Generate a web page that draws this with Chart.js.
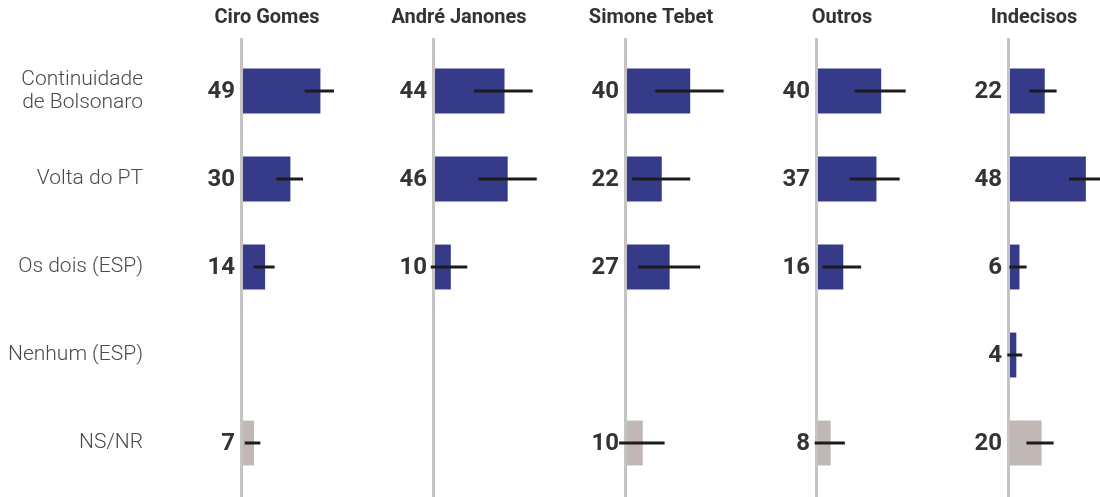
<!DOCTYPE html>
<html lang="pt">
<head>
<meta charset="UTF-8">
<title>Continuidade ou volta do PT</title>
<script src="https://cdn.jsdelivr.net/npm/chart.js@4.4.1/dist/chart.umd.min.js"></script>
<style>
  body { margin: 0; background: #fff; }
  #wrap { position: relative; width: 1100px; height: 497px; }
  #wrap canvas { position: absolute; top: 0; }
</style>
</head>
<body>
<div id="wrap"></div>

<script>
// categorias (eixo y) e paineis
var categorias = [['Continuidade', 'de Bolsonaro'], 'Volta do PT', 'Os dois (ESP)', 'Nenhum (ESP)', 'NS/NR'];
var paineis = ['Ciro Gomes', 'André Janones', 'Simone Tebet', 'Outros', 'Indecisos'];

// valores (%)
var ciro      = [49, 30, 14, null, 7];
var janones   = [44, 46, 10, null, null];
var tebet     = [40, 22, 27, null, 10];
var outros    = [40, 37, 16, null, 8];
var indecisos = [22, 48, 6, 4, 20];

// margem de erro: limite inferior e superior
var ciroErro      = [[39, 57.6], [21.1, 38], [6.8, 20], null, [1.1, 11]];
var janonesErro   = [[24.7, 61.8], [27.4, 64.4], [-2.7, 20.4], null, null];
var tebetErro     = [[17.9, 61.2], [3.2, 40], [7, 46.3], null, [-5, 23.8]];
var outrosErro    = [[23.2, 55.5], [20, 51.7], [2.7, 27.3], null, [-2.1, 17]];
var indecisosErro = [[12.2, 29.5], [37.3, 62], [-0.4, 10.5], [-1.7, 7.7], [10.4, 27.6]];

var valores = [ciro, janones, tebet, outros, indecisos];
var erros = [ciroErro, janonesErro, tebetErro, outrosErro, indecisosErro];

// layout
var zeroX = [243, 435, 627, 818, 1010];
var pxPorPonto = 1.58;
var azul = '#353a89';
var cinza = '#c1b8b6';

var extras = {
    id: 'extras',
    afterDatasetsDraw: function(chart, args, opts) {
        var ctx = chart.ctx;
        var xs = chart.scales.x, ys = chart.scales.y;
        var x0 = xs.getPixelForValue(0);
        ctx.save();
        // linha do zero
        ctx.strokeStyle = '#c4c4c4';
        ctx.lineWidth = 3;
        ctx.beginPath();
        ctx.moveTo(x0 - 1.5, 38);
        ctx.lineTo(x0 - 1.5, chart.height);
        ctx.stroke();
        // titulo
        ctx.fillStyle = '#333';
        ctx.font = 'bold 20px Roboto';
        ctx.textAlign = 'center';
        ctx.textBaseline = 'middle';
        ctx.fillText(opts.titulo, x0 + 24, 18);
        // margens de erro
        ctx.strokeStyle = '#1c1c1c';
        ctx.lineWidth = 3;
        (opts.erro || []).forEach(function(e, i) {
            if (!e) return;
            var y = ys.getPixelForValue(i);
            ctx.beginPath();
            ctx.moveTo(xs.getPixelForValue(e[0]), y);
            ctx.lineTo(xs.getPixelForValue(e[1]), y);
            ctx.stroke();
        });
        // rotulos
        ctx.fillStyle = '#333';
        ctx.font = 'bold 24px Roboto';
        ctx.textAlign = 'right';
        chart.data.datasets[0].data.forEach(function(v, i) {
            if (v === null) return;
            ctx.fillText(String(v), x0 - 8, ys.getPixelForValue(i) + 1);
        });
        ctx.restore();
    }
};

paineis.forEach(function(nome, p) {
    var primeiro = p === 0;
    var left = primeiro ? 0 : zeroX[p] - 60;
    var right = p < paineis.length - 1 ? zeroX[p + 1] - 60 : 1100;
    var largura = right - left;
    var areaL = primeiro ? zeroX[0] : 60;

    var c = document.createElement('canvas');
    c.width = largura;
    c.height = 497;
    c.style.left = left + 'px';
    document.getElementById('wrap').appendChild(c);

    var eixoY = primeiro ? {
        grid: { display: false, drawTicks: false },
        border: { display: false },
        ticks: {
            color: '#4a4a4a',
            padding: zeroX[0] - 143,
            font: { family: 'Roboto', size: 21, weight: 300, lineHeight: 1.1 }
        },
        afterFit: function(scale) {
            scale.width = zeroX[0];
            scale.paddingTop = 0;
            scale.paddingBottom = 0;
        }
    } : { display: false };

    new Chart(c.getContext('2d'), {
        type: 'bar',
        data: {
            labels: categorias,
            datasets: [{
                data: valores[p],
                backgroundColor: valores[p].map(function(v, i) { return i === 4 ? cinza : azul; }),
                barPercentage: 0.51,
                categoryPercentage: 1
            }]
        },
        options: {
            indexAxis: 'y',
            responsive: false,
            animation: false,
            layout: { padding: { left: primeiro ? 0 : 60, right: 0, top: 47, bottom: 10 } },
            plugins: {
                legend: { display: false },
                tooltip: { enabled: false },
                extras: { titulo: nome, erro: erros[p] }
            },
            scales: {
                x: { display: false, min: 0, max: (largura - areaL) / pxPorPonto },
                y: eixoY
            }
        },
        plugins: [extras]
    });
});
</script>
</body>
</html>
